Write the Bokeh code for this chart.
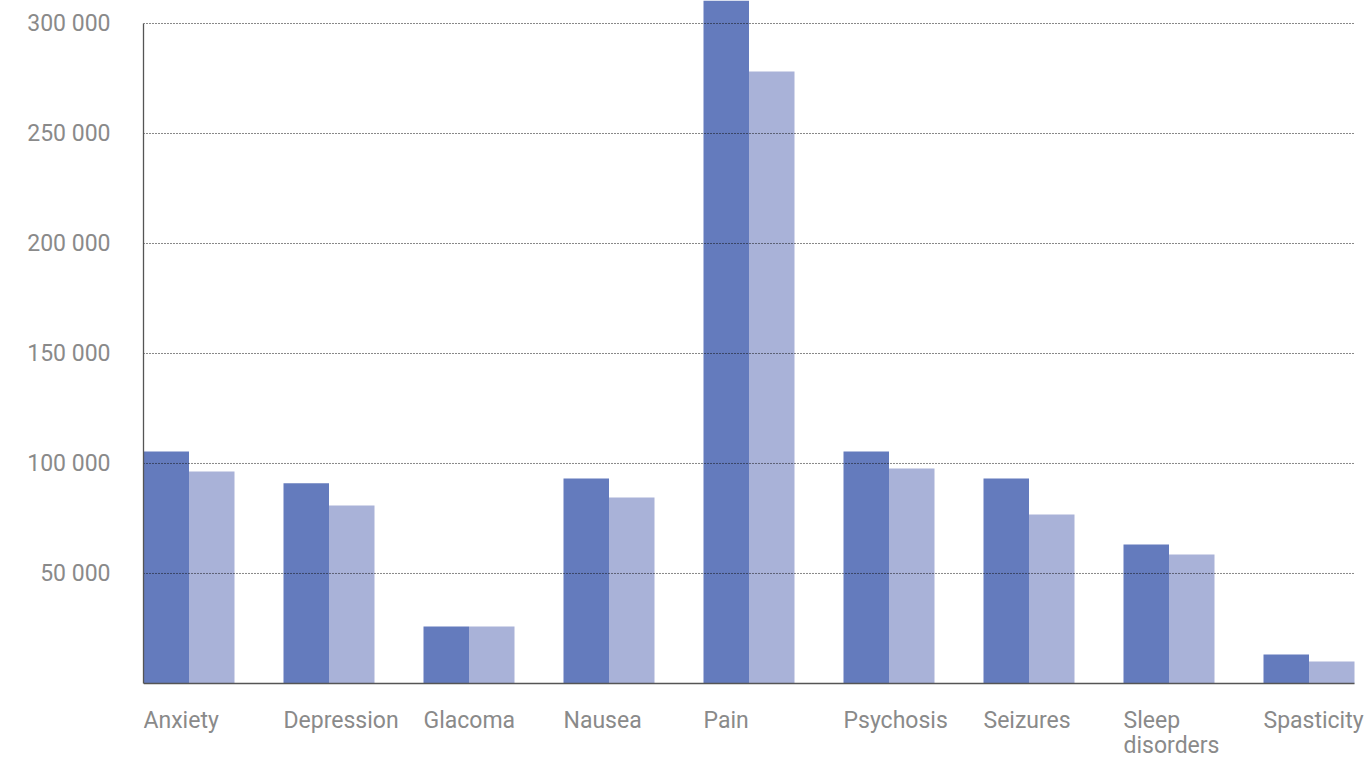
from bokeh.plotting import figure
from bokeh.models import FixedTicker, Range1d, ColumnDataSource
from bokeh.core.properties import value
from bokeh.embed import file_html
from bokeh.resources import INLINE

categories = ["Anxiety", "Depression", "Glacoma", "Nausea", "Pain",
              "Psychosis", "Seizures", "Sleep\ndisorders", "Spasticity"]
series_a = [105500, 91000, 25900, 93200, 320000, 105500, 93200, 63200, 13200]
series_b = [96400, 80900, 25900, 84500, 278200, 97700, 76800, 58600, 10000]
y_ticks = [50000, 100000, 150000, 200000, 250000, 300000]
y_tick_labels = ["50 000", "100 000", "150 000", "200 000", "250 000", "300 000"]

dark = "#647bbd"
light = "#a9b2d8"
bw = 0.325
idx = list(range(len(categories)))
x_end = idx[-1] + 2 * bw

src = ColumnDataSource(dict(
    xa=[i + bw / 2 for i in idx],
    xb=[i + bw * 1.5 for i in idx],
    a=series_a,
    b=series_b,
))
lab_src = ColumnDataSource(dict(x=idx, y=[-10500] * len(idx), t=categories))
grid_src = ColumnDataSource(dict(x0=[0] * len(y_ticks), x1=[x_end] * len(y_ticks), y=y_ticks))

p = figure(width=1371, height=758, output_backend="svg", toolbar_location=None,
           x_range=Range1d(0, 1228 / 140), y_range=Range1d(-34100, 310450),
           min_border_left=143, min_border_right=0, min_border_top=0,
           min_border_bottom=0)
p.outline_line_color = None
p.background_fill_color = "white"
p.border_fill_color = "white"
p.xaxis.visible = False
p.xgrid.grid_line_color = None
p.ygrid.grid_line_color = None

p.vbar(x="xa", top="a", width=bw, source=src, fill_color=dark, line_color=None)
p.vbar(x="xb", top="b", width=bw, source=src, fill_color=light, line_color=None)

# dotted horizontal grid lines (on top of bars), stopping at the last group
p.segment(x0="x0", x1="x1", y0="y", y1="y", source=grid_src,
          line_color="#111111", line_dash="1 2", line_width=1)
# x axis line
p.segment(x0=[0], x1=[x_end], y0=[0], y1=[0], line_color="#555555", line_width=1.3)

font = "Roboto"
lab_color = "#8a8a8a"
fsize = "23px"

# y axis
ya = p.yaxis[0]
ya.ticker = FixedTicker(ticks=y_ticks)
ya.major_label_overrides = {t: l for t, l in zip(y_ticks, y_tick_labels)}
ya.bounds = (0, 300000)
ya.axis_line_color = "#555555"
ya.axis_line_width = 1.3
ya.major_tick_line_color = None
ya.minor_tick_line_color = None
ya.major_label_standoff = 27
ya.major_label_text_font = font
ya.major_label_text_font_size = fsize
ya.major_label_text_color = lab_color

# category labels
p.text(x="x", y="y", text="t", source=lab_src, text_align="left", text_baseline="top",
       text_font=value(font), text_font_size=value(fsize), text_color=lab_color,
       text_line_height=0.95)

open("out.html", "w").write(file_html(p, INLINE))
